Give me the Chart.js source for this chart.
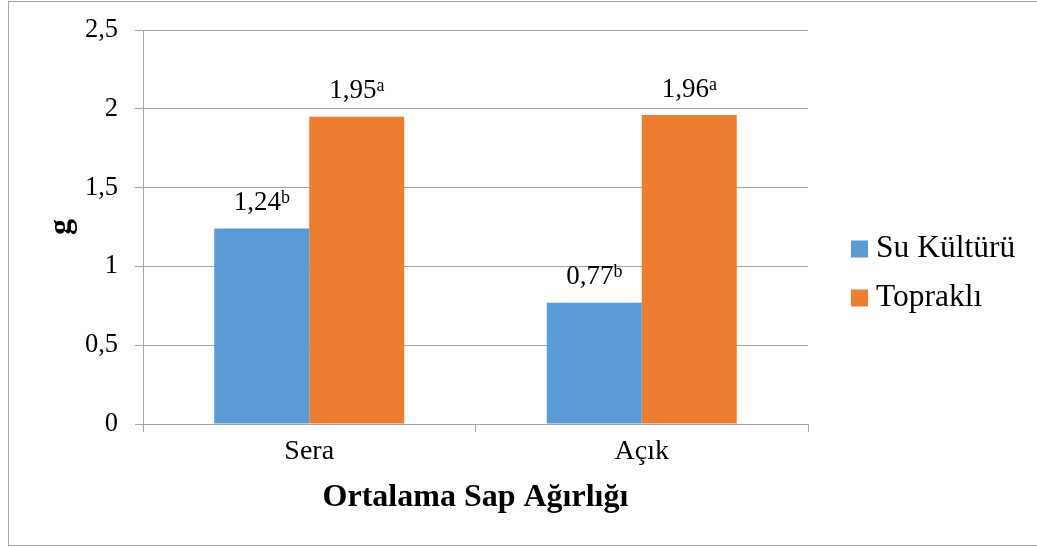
<!DOCTYPE html>
<html>
<head>
<meta charset="utf-8">
<script src="https://cdn.jsdelivr.net/npm/chart.js@4.4.1/dist/chart.umd.min.js"></script>
<style>
  html, body { margin: 0; padding: 0; background: #ffffff; }
  #wrap { width: 1037px; height: 547px; position: relative; }
</style>
</head>
<body>
<div id="wrap"><canvas id="c" width="1037" height="547"></canvas></div>
<script>
// ---- data ----
const categories = ['Sera', 'Açık'];
const seriesNames = ['Su Kültürü', 'Topraklı'];
const suKulturu = [1.24, 0.77];
const toprakli = [1.95, 1.96];
const suLetters = ['b', 'b'];
const toprakliLetters = ['a', 'a'];
const yTickLabels = ['0', '0,5', '1', '1,5', '2', '2,5'];
const yTitle = 'g';
const xTitle = 'Ortalama Sap Ağırlığı';

const colors = ['#5B9BD5', '#ED7D31'];
const gridColor = '#A6A6A6';
const FONT = '"Liberation Serif", "Times New Roman", serif';

const framePlugin = {
  id: 'frame',
  beforeDraw(chart) {
    const ctx = chart.ctx;
    ctx.save();
    ctx.fillStyle = '#ffffff';
    ctx.fillRect(0, 0, chart.width, chart.height);
    ctx.strokeStyle = '#A6A6A6';
    ctx.lineWidth = 1;
    ctx.strokeRect(8.5, 1.5, 1040, 544);
    ctx.restore();
  }
};

const labelPlugin = {
  id: 'valueLabels',
  afterDatasetsDraw(chart) {
    const ctx = chart.ctx;
    ctx.save();
    ctx.fillStyle = '#000000';
    ctx.textBaseline = 'alphabetic';
    ctx.textAlign = 'left';
    chart.data.datasets.forEach((ds, di) => {
      const meta = chart.getDatasetMeta(di);
      meta.data.forEach((bar, i) => {
        const main = ds.data[i].toFixed(2).replace('.', ',');
        const sup = ds.letters[i];
        ctx.font = '27px ' + FONT;
        const wMain = ctx.measureText(main).width;
        ctx.font = '18px ' + FONT;
        const wSup = ctx.measureText(sup).width;
        const total = wMain + wSup;
        const x0 = bar.x - total / 2;
        const base = bar.y - 18.5;
        ctx.font = '27px ' + FONT;
        ctx.fillText(main, x0, base);
        ctx.font = '18px ' + FONT;
        ctx.fillText(sup, x0 + wMain, base - 7);
      });
    });
    ctx.restore();
  }
};

const legendPlugin = {
  id: 'customLegend',
  afterDraw(chart) {
    const ctx = chart.ctx;
    ctx.save();
    const boxX = 851, textX = 876, y0 = 249, step = 49, box = 17;
    chart.data.datasets.forEach((ds, i) => {
      const cy = y0 + i * step;
      ctx.fillStyle = ds.backgroundColor;
      ctx.fillRect(boxX, cy - box / 2, box, box);
      ctx.fillStyle = '#000000';
      ctx.font = '31.5px ' + FONT;
      ctx.textBaseline = 'middle';
      ctx.textAlign = 'left';
      ctx.fillText(ds.label, textX, cy);
    });
    ctx.restore();
  }
};

new Chart(document.getElementById('c'), {
  type: 'bar',
  data: {
    labels: categories,
    datasets: [
      { label: seriesNames[0], data: suKulturu, letters: suLetters, backgroundColor: colors[0],
        categoryPercentage: 0.5714, barPercentage: 1.0 },
      { label: seriesNames[1], data: toprakli, letters: toprakliLetters, backgroundColor: colors[1],
        categoryPercentage: 0.5714, barPercentage: 1.0 }
    ]
  },
  options: {
    responsive: false,
    animation: false,
    devicePixelRatio: 1,
    layout: { padding: { left: 20, right: 229, top: 30, bottom: 0 } },
    plugins: {
      legend: { display: false },
      tooltip: { enabled: false }
    },
    scales: {
      x: {
        afterFit(scale) { scale.height = 123; scale.paddingLeft = 0; scale.paddingRight = 0; },
        grid: { offset: true, drawOnChartArea: false, drawTicks: true, tickLength: 8, color: gridColor },
        border: { color: gridColor },
        ticks: { color: '#000000', font: { family: FONT, size: 28 }, padding: 3 },
        title: { display: true, text: xTitle, color: '#000000',
                 font: { family: FONT, size: 32, weight: 'bold' }, padding: { top: 0, bottom: 30 } }
      },
      y: {
        min: 0, max: 2.5,
        afterFit(scale) { scale.width = 123; scale.paddingTop = 0; scale.paddingBottom = 0; },
        afterBuildTicks(scale) {
          scale.ticks = yTickLabels.map((_, i) => ({ value: i * 0.5 }));
        },
        grid: { color: gridColor, tickLength: 8 },
        border: { color: gridColor },
        ticks: {
          color: '#000000', font: { family: FONT, size: 26.5 }, padding: 17,
          callback: (v, i) => yTickLabels[i]
        },
        title: { display: true, text: yTitle, color: '#000000',
                 font: { family: FONT, size: 32, weight: 'bold' }, padding: { top: 23, bottom: 0 } }
      }
    }
  },
  plugins: [framePlugin, labelPlugin, legendPlugin]
});
</script>
</body>
</html>
